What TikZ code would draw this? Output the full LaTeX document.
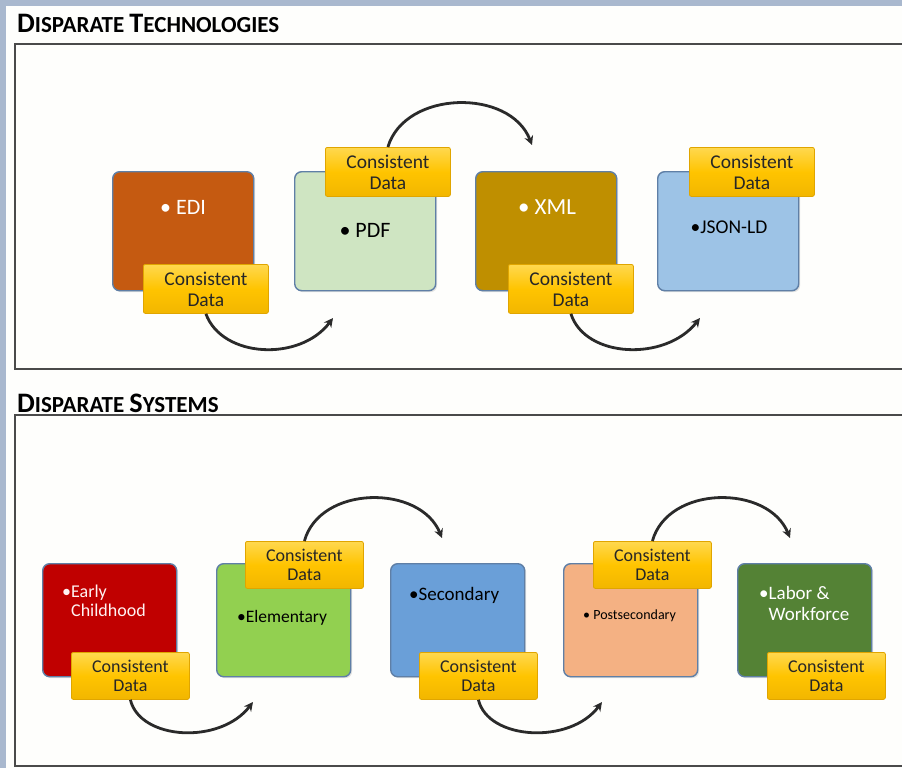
\documentclass[tikz,border=0pt]{standalone}
\usepackage{fontspec}
\setmainfont{Carlito}
\usetikzlibrary{arrows.meta,shadows}
\definecolor{bandC}{HTML}{A9B8CE}
\definecolor{paperC}{HTML}{FEFEFC}
\definecolor{panelC}{HTML}{4A4A4A}
\definecolor{edgeC}{HTML}{5F7FA6}
\definecolor{ediC}{HTML}{C55A11}
\definecolor{pdfC}{HTML}{CFE5C2}
\definecolor{xmlC}{HTML}{BF8F00}
\definecolor{jsonC}{HTML}{9DC3E6}
\definecolor{ecC}{HTML}{C00000}
\definecolor{elC}{HTML}{92D050}
\definecolor{seC}{HTML}{6A9FD8}
\definecolor{psC}{HTML}{F4B183}
\definecolor{lwC}{HTML}{548235}
\definecolor{tabTop}{HTML}{FFD84F}
\definecolor{tabMid}{HTML}{FFC400}
\definecolor{tabBot}{HTML}{F2B600}
\definecolor{tabEdge}{HTML}{E0A500}
\definecolor{inkC}{HTML}{262626}
\definecolor{arrC}{HTML}{2A2A2A}
\begin{document}
\begin{tikzpicture}[x=1pt,y=-1pt,
  box/.style={draw=edgeC, line width=1.4pt, rounded corners=7pt, anchor=north west,
    inner sep=0pt, drop shadow={opacity=0.22, shadow xshift=1.5pt, shadow yshift=-1.5pt}},
  bigbox/.style={box, minimum width=141pt, minimum height=119pt},
  smallbox/.style={box, minimum width=134pt, minimum height=113pt},
  tab/.style={anchor=north west, inner sep=0pt, rounded corners=2pt, draw=tabEdge, line width=0.8pt,
    top color=tabTop, bottom color=tabBot, middle color=tabMid, align=center, text=inkC},
  bigtab/.style={tab, minimum width=125pt, minimum height=49pt, font=\fontsize{19.5}{21}\selectfont},
  smalltab/.style={tab, minimum width=118pt, minimum height=47pt, font=\fontsize{18}{19.5}\selectfont},
  lbl/.style={inner sep=0pt},
  title/.style={anchor=base west, inner sep=0pt, text=black, font=\bfseries},
  panel/.style={draw=panelC, line width=1.8pt},
  arr/.style={draw=arrC, line width=2.8pt, -{Stealth[length=9pt,width=9pt]}}
]
\clip (0,0) rectangle (902,768);
\useasboundingbox (0,0) rectangle (902,768);
% background
\fill[bandC] (0,0) rectangle (902,768);
\fill[paperC] (6,6) rectangle (910,775);

% titles
\node[title] (t1) at (17,33) {\fontsize{28.2}{29}\selectfont D\fontsize{23}{24}\selectfont ISPARATE \fontsize{28.2}{29}\selectfont T\fontsize{23}{24}\selectfont ECHNOLOGIES};
\node[title] (t2) at (17,412) {\fontsize{28.2}{29}\selectfont D\fontsize{23}{24}\selectfont ISPARATE \fontsize{28.2}{29}\selectfont S\fontsize{23}{24}\selectfont YSTEMS};

% panels
\draw[panel] (15,44) rectangle (920,369);
\draw[panel] (15,415) rectangle (920,766);

% ---------- top panel ----------
\node[bigbox, fill=ediC] (edi) at (112,171) {};
\node[bigbox, fill=pdfC] (pdf) at (294,171) {};
\node[bigbox, fill=xmlC] (xml) at (475,171) {};
\node[bigbox, fill=jsonC] (json) at (657,171) {};

\node[lbl, text=white, font=\fontsize{22}{24}\selectfont] (edi-t) at (183,207) {• EDI};
\node[lbl, text=black, font=\fontsize{22}{24}\selectfont] (pdf-t) at (365,230) {• PDF};
\node[lbl, text=white, font=\fontsize{23}{24}\selectfont] (xml-t) at (547,207) {• XML};
\node[lbl, text=black, font=\fontsize{19.5}{22}\selectfont] (json-t) at (729,227) {•JSON-LD};

\node[bigtab] (edi-cd) at (143,264) {Consistent\\Data};
\node[bigtab] (pdf-cd) at (325,147) {Consistent\\Data};
\node[bigtab] (xml-cd) at (508,264) {Consistent\\Data};
\node[bigtab] (json-cd) at (689,147) {Consistent\\Data};

\coordinate (e1) at (333,318);
\coordinate (e2) at (532,145);
\coordinate (e3) at (700,318);
\draw[arr] (edi-cd.south) .. controls (222,358) and (300,362) .. (e1);
\draw[arr] (pdf-cd.north) .. controls (405,90) and (510,88) .. (e2);
\draw[arr] (xml-cd.south) .. controls (585,358) and (665,362) .. (e3);

% ---------- bottom panel ----------
\node[smallbox, fill=ecC] (ec) at (42,563) {};
\node[smallbox, fill=elC] (el) at (216,563) {};
\node[smallbox, fill=seC] (se) at (390,563) {};
\node[smallbox, fill=psC] (ps) at (563,563) {};
\node[smallbox, fill=lwC] (lw) at (737,563) {};

\node[lbl, anchor=west, text=white!95!red, font=\fontsize{18}{19}\selectfont] (ec-t) at (62,603)
  {•\begin{tabular}[t]{@{}l@{}}Early\\Childhood\end{tabular}};
\node[lbl, anchor=west, text=black, font=\fontsize{17.5}{20}\selectfont] (el-t) at (237,618) {•Elementary};
\node[lbl, anchor=west, text=black, font=\fontsize{19}{20}\selectfont] (se-t) at (409,595) {•Secondary};
\node[lbl, anchor=west, text=black, font=\fontsize{14}{16}\selectfont] (ps-t) at (583,616) {• Postsecondary};
\node[lbl, anchor=west, text=white, font=\fontsize{19}{21}\selectfont] (lw-t) at (759,606)
  {•\begin{tabular}[t]{@{}l@{}}Labor \&\\Workforce\end{tabular}};

\node[smalltab] (ec-cd) at (71,652) {Consistent\\Data};
\node[smalltab] (el-cd) at (245,541) {Consistent\\Data};
\node[smalltab] (se-cd) at (419,652) {Consistent\\Data};
\node[smalltab] (ps-cd) at (593,541) {Consistent\\Data};
\node[smalltab] (lw-cd) at (767,652) {Consistent\\Data};

\coordinate (f1) at (253,702);
\coordinate (f2) at (442,538);
\coordinate (f3) at (602,702);
\coordinate (f4) at (790,538);
\draw[arr] (ec-cd.south) .. controls (140,740) and (220,745) .. (f1);
\draw[arr] (el-cd.north) .. controls (320,485) and (420,484) .. (f2);
\draw[arr] (se-cd.south) .. controls (488,740) and (570,745) .. (f3);
\draw[arr] (ps-cd.north) .. controls (668,485) and (768,484) .. (f4);
\end{tikzpicture}
\end{document}
